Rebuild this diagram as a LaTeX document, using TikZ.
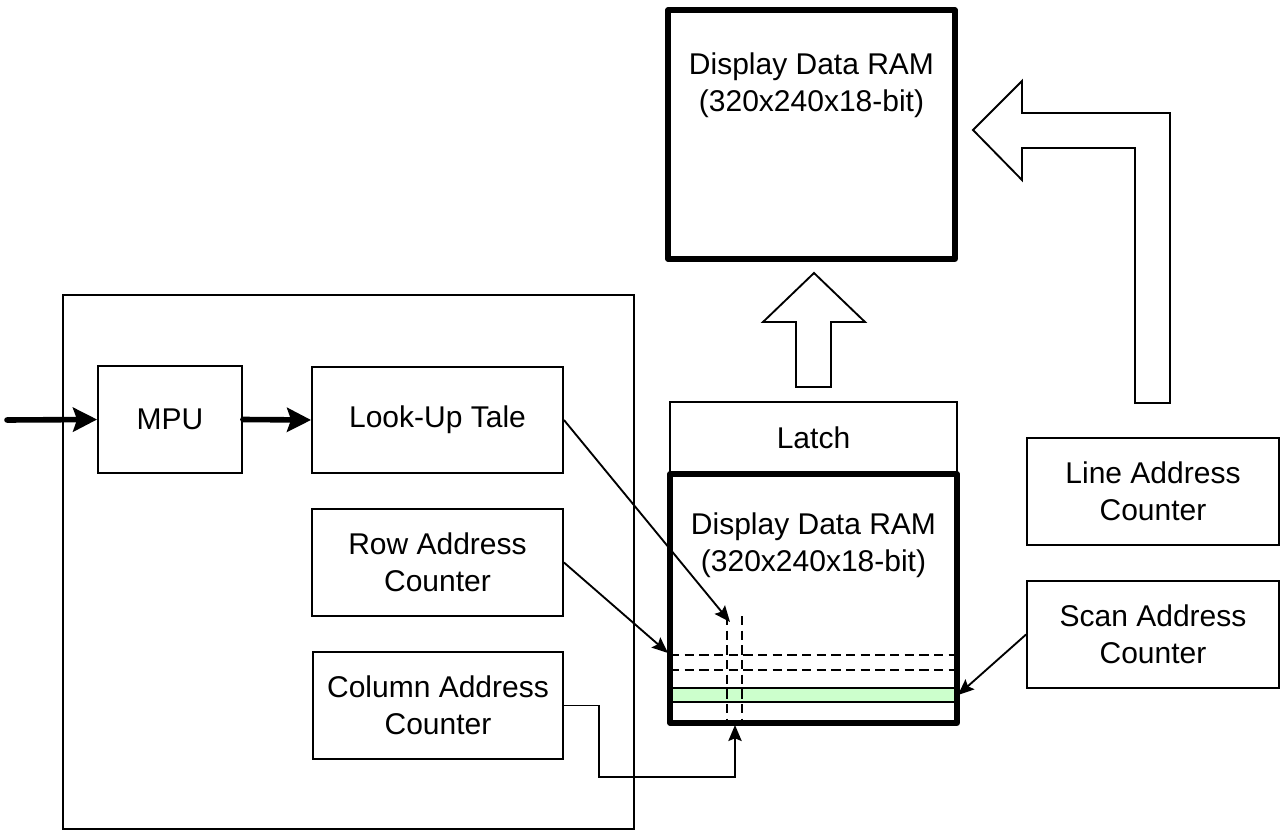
\documentclass[tikz,border=0pt]{standalone}
\usepackage{fontspec}
\setmainfont{Liberation Sans}
\usetikzlibrary{arrows.meta}
\definecolor{ramgreen}{HTML}{CCFFCC}
\begin{document}
\begin{tikzpicture}[x=0.75pt,y=-0.75pt,
  every node/.style={font=\fontsize{22.5}{28}\selectfont},
  bx/.style 2 args={minimum width=#1*0.75pt, minimum height=#2*0.75pt},
  box/.style={draw, line width=1.4pt, inner sep=0pt, align=center},
  thickbox/.style={draw, line width=3.8pt, inner sep=0pt, line join=round},
  thinarr/.style={line width=1.4pt, -{Stealth[length=12pt,width=10pt,inset=2pt]}},
  thickarr/.style={line width=4.2pt, line cap=round, -{Stealth[length=18pt,width=18pt,inset=3pt]}},
  dashline/.style={line width=2.2pt, dash pattern=on 7pt off 4pt},
  blockarrow/.style={draw, line width=1.4pt, line join=miter, fill=white}]
\useasboundingbox (0,0) rectangle (1281,830);

% outer container
\node[box,bx={571}{534}] (outer) at (348.5,562) {};

% left blocks
\node[box,bx={144}{107}] (mpu) at (170,419.5) {MPU};
\node[box,bx={251}{106}] (lut) at (437.5,420) {Look-Up Tale};
\node[box,bx={251}{107}] (row) at (437.5,562.5) {Row Address\\Counter};
\node[box,bx={250}{107}] (col) at (438,705.5) {Column Address\\Counter};

% latch
\node[box,bx={287}{72}] (latch) at (813.5,438) {Latch};

% green bar and dashed lines inside lower RAM
\node[draw, line width=1.4pt, fill=ramgreen, inner sep=0pt, bx={287}{14}] (bar) at (813.5,695) {};
\draw[dashline] (670,655) -- (957,655);
\draw[dashline] (670,670) -- (957,670);
\draw[dashline] (727,616) -- (727,723);
\draw[dashline] (742,616) -- (742,723);

% lower RAM
\node[thickbox,bx={287}{249}] (ram2) at (813.5,598.5) {};
\node[align=center, inner sep=0pt] (ram2t) at (813.5,545) {Display Data RAM\\(320x240x18-bit)};

% upper RAM
\node[thickbox,bx={287}{249}] (ram1) at (811.5,134.5) {};
\node[align=center, inner sep=0pt] (ram1t) at (811.5,85) {Display Data RAM\\(320x240x18-bit)};

% right blocks
\node[box,bx={252}{107}] (lac) at (1153,491.5) {Line Address\\Counter};
\node[box,bx={252}{107}] (sac) at (1153,634.5) {Scan Address\\Counter};

% block arrows
\draw[blockarrow] (814,273) -- (865,322) -- (831,322) -- (831,387) -- (796,387) -- (796,322) -- (763,322) -- cycle;
\draw[blockarrow] (973,130) -- (1022,81) -- (1022,113) -- (1170,113) -- (1170,403) -- (1135,403) -- (1135,148) -- (1022,148) -- (1022,180) -- cycle;

% connectors
\coordinate (inp) at (7,420);
\draw[thickarr] (inp) -- (mpu.west);
\draw[thickarr] (mpu.east) -- (lut.west);

\coordinate (lutend) at (730,622);
\draw[thinarr] (lut.east) -- (lutend);

\coordinate (rowend) at (668,653);
\draw[thinarr] (row.east) -- (rowend);

\coordinate (colbend) at (599,705.5);
\coordinate (colend) at (735,725);
\draw[thinarr] (col.east) -- (colbend) |- (735,777) -- (colend);

\draw[thinarr] (sac.west) -- (bar.east);
\end{tikzpicture}
\end{document}
